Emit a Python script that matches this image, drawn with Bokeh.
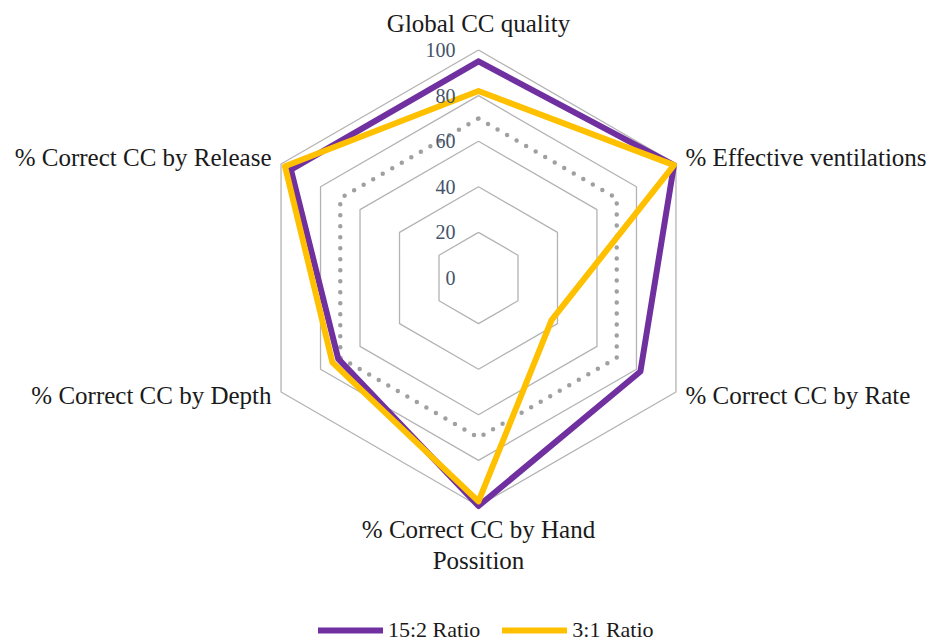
import numpy as np
from bokeh.plotting import figure
from bokeh.models import ColumnDataSource, Range1d, Legend, LegendItem
from bokeh.embed import file_html
from bokeh.resources import INLINE
from bokeh.core.properties import value

# ---------------- data ----------------
categories = ["Global CC quality", "% Effective ventilations", "% Correct CC by Rate",
              "% Correct CC by Hand\nPossition", "% Correct CC by Depth", "% Correct CC by Release"]
ratio_15_2 = [95, 99, 82, 100, 71, 95]
ratio_3_1 = [82, 99, 37, 98, 74, 98]
reference_70 = [70, 70, 70, 70, 70, 70]
ring_values = [20, 40, 60, 80, 100]
tick_values = [0, 20, 40, 60, 80, 100]
tick_labels = ["0", "20", "40", "60", "80", "100"]
series_names = ["15:2 Ratio", "3:1 Ratio"]

# ---------------- layout ----------------
W, H = 933, 644
CX, CY = 478.0, 277.5     # pixel centre of the radar
S = 2.28                  # pixels per value unit
SERIF = "Liberation Serif"

angles = np.deg2rad(90 - 60 * np.arange(len(categories)))


def polar(vals, close=True):
    r = np.asarray(vals, dtype=float)
    x = r * np.cos(angles)
    y = r * np.sin(angles)
    if close:
        x = np.append(x, x[0])
        y = np.append(y, y[0])
    return list(x), list(y)


p = figure(width=W, height=H, output_backend="svg", toolbar_location=None,
           x_range=Range1d(-CX / S, (W - CX) / S),
           y_range=Range1d(-(H - CY) / S, CY / S),
           x_axis_type=None, y_axis_type=None,
           min_border=0, min_border_left=0, min_border_right=0,
           min_border_top=0, min_border_bottom=0)
p.grid.visible = False
p.outline_line_color = None
p.background_fill_color = "white"
p.border_fill_color = "white"

# rings
ring_xs, ring_ys = [], []
for v in ring_values:
    xs, ys = polar([v] * len(categories))
    ring_xs.append(xs)
    ring_ys.append(ys)
p.multi_line(xs=ring_xs, ys=ring_ys, line_color="#B3B3B3", line_width=1.3)

# reference dotted line
rx, ry = polar(reference_70)
p.line(rx, ry, line_color="#A0A0A0", line_width=4.5, line_dash="0 11",
       line_cap="round")

# series
colors = ["#7030A0", "#FFC000"]
renderers = []
for vals, col in zip([ratio_15_2, ratio_3_1], colors):
    sx, sy = polar(vals)
    r = p.line(sx, sy, line_color=col, line_width=6, line_join="round",
               line_cap="round")
    renderers.append(r)

# tick labels
tick_src = ColumnDataSource(dict(x=[0] * len(tick_values), y=tick_values, t=tick_labels))
p.text(x="x", y="y", text="t", source=tick_src, text_align="right",
       text_baseline="middle", x_offset=-23, text_color="#44546A",
       text_font=value(SERIF), text_font_size="20px")

# category labels
lx, ly = polar([100] * len(categories), close=False)
aligns = ["center", "left", "left", "center", "right", "right"]
baselines = ["middle", "middle", "middle", "top", "middle", "middle"]
xoffs = [0, 9.5, 9.5, 0, -9.5, -9.5]
yoffs = [-27, -6.5, 3, 10, 3, -6.5]
for i, cat in enumerate(categories):
    src = ColumnDataSource(dict(x=[lx[i]], y=[ly[i]], t=[cat]))
    p.text(x="x", y="y", text="t", source=src, text_align=aligns[i],
           text_baseline=baselines[i], x_offset=xoffs[i], y_offset=yoffs[i],
           text_color="#1A1A1A", text_font=value(SERIF), text_font_size="25px",
           text_line_height=1.15)

# legend
legend = Legend(items=[LegendItem(label=series_names[0], renderers=[renderers[0]]),
                       LegendItem(label=series_names[1], renderers=[renderers[1]])],
                orientation="horizontal", location=(318, 1),
                glyph_width=65, glyph_height=24, label_standoff=5, spacing=22,
                padding=0, margin=0, border_line_alpha=0, background_fill_alpha=0,
                label_text_font=SERIF, label_text_font_size="22px",
                label_text_color="#1A1A1A", label_height=24)
p.add_layout(legend)

open("out.html", "w").write(file_html(p, INLINE))
